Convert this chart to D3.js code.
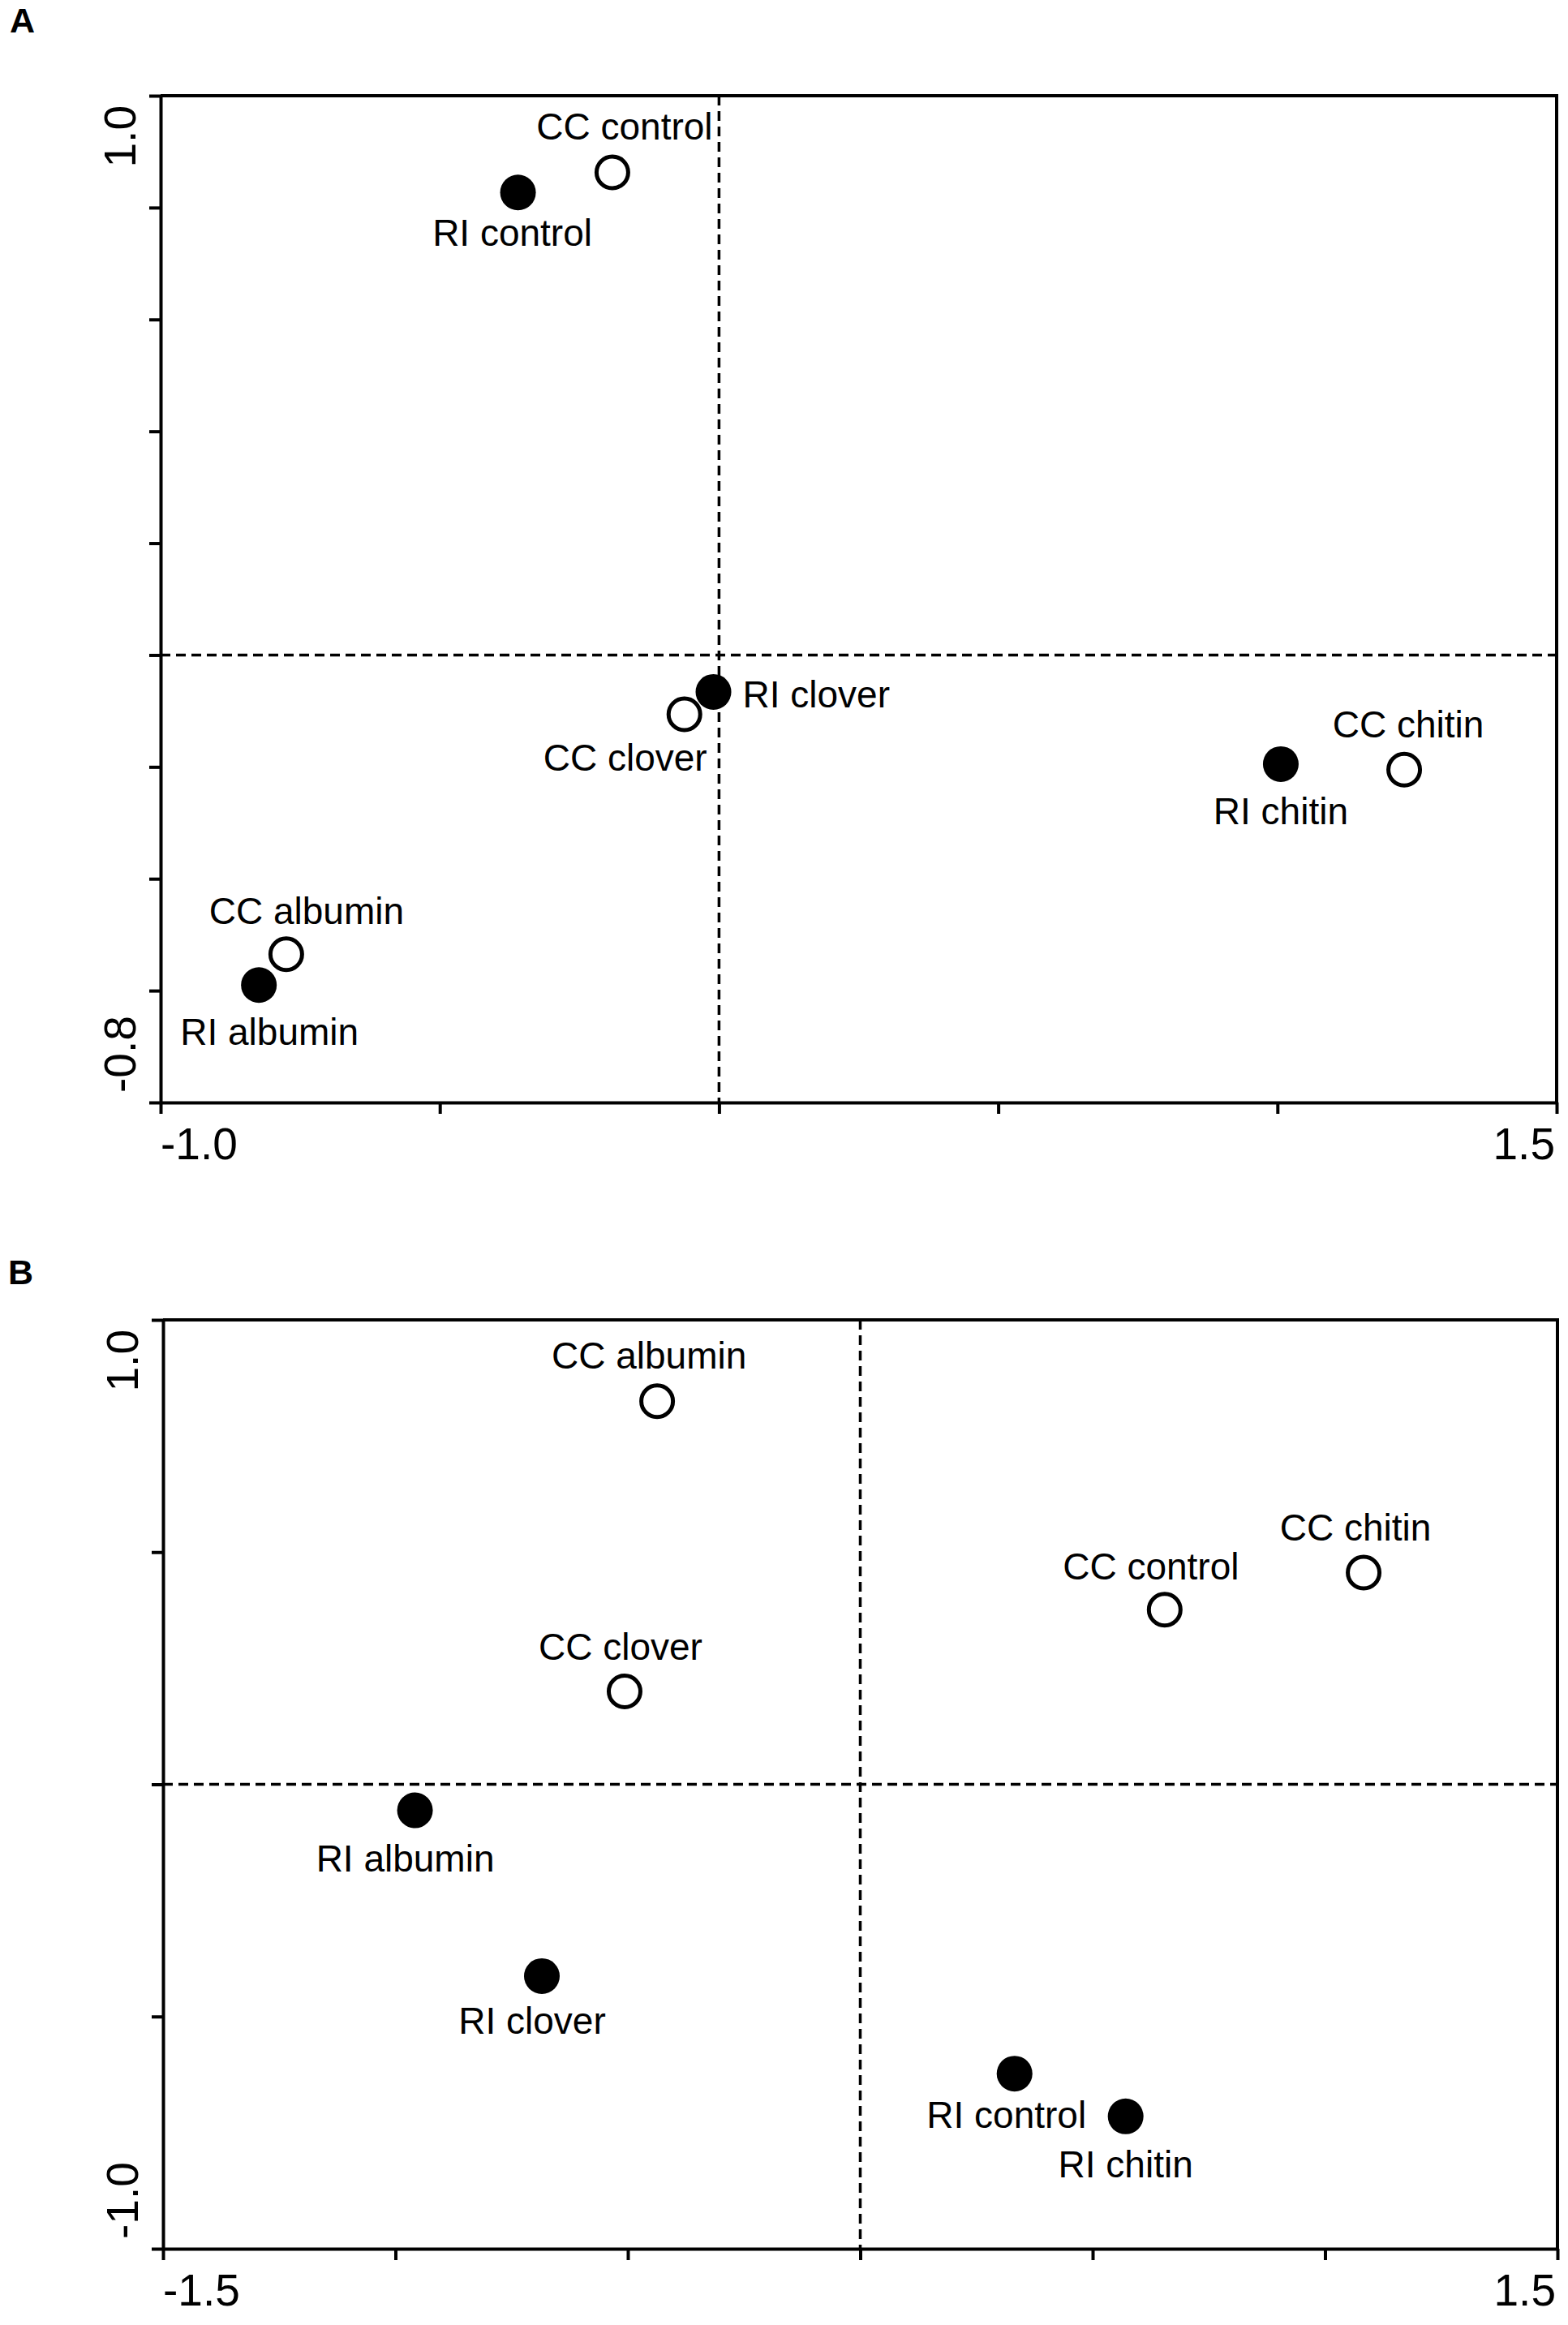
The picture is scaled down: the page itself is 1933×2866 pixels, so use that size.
<!DOCTYPE html>
<html>
<head>
<meta charset="utf-8">
<script src="https://cdn.jsdelivr.net/npm/d3@7"></script>
<style>
    body { margin: 0; background: #fff; }
    text { font-family: "Liberation Sans", Arial, sans-serif; fill: #000; }
    .panel-letter { font-weight: bold; font-size: 43px; }
    .tick-label { font-size: 55px; }
    .point-label { font-size: 46px; }
</style>
</head>
<body>
<svg id="chart" width="1933" height="2866"></svg>
<script>
// ---- panel A data ----
const labelsA = ["RI control", "CC control", "RI clover", "CC clover", "RI chitin", "CC chitin", "CC albumin", "RI albumin"];
const xA = [-0.360, -0.191, -0.010, -0.062, 1.006, 1.227, -0.775, -0.824];
const yA = [0.827, 0.863, -0.066, -0.106, -0.195, -0.205, -0.535, -0.590];
const xTicksA = [-1.0, -0.5, 0, 0.5, 1.0, 1.5];
const yTicksA = [-0.8, -0.6, -0.4, -0.2, 0, 0.2, 0.4, 0.6, 0.8, 1.0];

// ---- panel B data ----
const labelsB = ["CC albumin", "CC chitin", "CC control", "CC clover", "RI albumin", "RI clover", "RI control", "RI chitin"];
const xB = [-0.437, 1.083, 0.655, -0.507, -0.958, -0.685, 0.332, 0.571];
const yB = [0.825, 0.456, 0.376, 0.200, -0.056, -0.413, -0.623, -0.715];
const xTicksB = [-1.5, -1.0, -0.5, 0, 0.5, 1.0, 1.5];
const yTicksB = [-1.0, -0.5, 0, 0.5, 1.0];

// label placement relative to each point: [dx, dy, anchor]
const labelPosA = {
    "CC control": [15, -40, "middle"], "RI control": [-7, 66, "middle"],
    "RI clover": [36, 19, "start"], "CC clover": [-73, 69, "middle"],
    "CC chitin": [5, -40, "middle"], "RI chitin": [0, 74, "middle"],
    "CC albumin": [25, -37, "middle"], "RI albumin": [13, 74, "middle"]
};
const labelPosB = {
    "CC albumin": [-10, -40, "middle"], "CC chitin": [-10, -39, "middle"],
    "CC control": [-17, -37, "middle"], "CC clover": [-5, -39, "middle"],
    "RI albumin": [-12, 75, "middle"], "RI clover": [-12, 71, "middle"],
    "RI control": [-10, 67, "middle"], "RI chitin": [0, 75, "middle"]
};

const svg = d3.select("#chart");

// draws one ordination panel
function drawPanel(cfg) {
    const x = d3.scaleLinear().domain(cfg.xDomain).range([cfg.left, cfg.right]);
    const y = d3.scaleLinear().domain(cfg.yDomain).range([cfg.bottom, cfg.top]);
    const g = svg.append("g");

    // panel letter
    g.append("text").attr("class", "panel-letter")
        .attr("x", cfg.letterX).attr("y", cfg.letterY).text(cfg.letter);

    // dashed zero lines
    g.append("line")
        .attr("x1", x(0)).attr("x2", x(0)).attr("y1", cfg.top).attr("y2", cfg.bottom)
        .attr("stroke", "#000").attr("stroke-width", 3.5).attr("stroke-dasharray", "12,7");
    g.append("line")
        .attr("x1", cfg.left).attr("x2", cfg.right).attr("y1", y(0)).attr("y2", y(0))
        .attr("stroke", "#000").attr("stroke-width", 3.5).attr("stroke-dasharray", "12,7");

    // frame (top and right sides)
    g.append("path")
        .attr("d", `M${cfg.left},${cfg.top}H${cfg.right}V${cfg.bottom}`)
        .attr("fill", "none").attr("stroke", "#000").attr("stroke-width", 4);

    // axes with ticks only
    const xAxis = g.append("g").attr("transform", `translate(0,${cfg.bottom})`)
        .call(d3.axisBottom(x).tickValues(cfg.xTicks).tickSize(14).tickSizeOuter(0).tickFormat(""));
    const yAxis = g.append("g").attr("transform", `translate(${cfg.left},0)`)
        .call(d3.axisLeft(y).tickValues(cfg.yTicks).tickSize(14).tickSizeOuter(0).tickFormat(""));
    [xAxis, yAxis].forEach(a => {
        a.select(".domain").attr("stroke-width", 4);
        a.selectAll(".tick line").attr("stroke-width", 4);
    });

    // end tick labels only
    const xt = cfg.xTicks, yt = cfg.yTicks;
    g.append("text").attr("class", "tick-label")
        .attr("x", x(xt[0])).attr("y", cfg.bottom + 70).attr("text-anchor", "start")
        .text(xt[0].toFixed(1));
    g.append("text").attr("class", "tick-label")
        .attr("x", x(xt[xt.length - 1]) - 2).attr("y", cfg.bottom + 70).attr("text-anchor", "end")
        .text(xt[xt.length - 1].toFixed(1));
    g.append("text").attr("class", "tick-label")
        .attr("transform", `translate(${cfg.left - 31},${y(yt[yt.length - 1]) + 12}) rotate(-90)`)
        .attr("text-anchor", "end")
        .text(yt[yt.length - 1].toFixed(1));
    g.append("text").attr("class", "tick-label")
        .attr("transform", `translate(${cfg.left - 31},${y(yt[0]) - 12}) rotate(-90)`)
        .attr("text-anchor", "start")
        .text(yt[0].toFixed(1));

    // points: CC open circles, RI filled circles (filled drawn on top)
    const pts = cfg.labels.map((l, i) => ({ label: l, x: cfg.xs[i], y: cfg.ys[i], open: l.startsWith("CC") }));
    const sorted = pts.slice().sort((a, b) => (b.open ? 1 : 0) - (a.open ? 1 : 0));
    g.selectAll("circle.pt")
        .data(sorted)
        .join("circle")
        .attr("class", "pt")
        .attr("cx", d => x(d.x))
        .attr("cy", d => y(d.y))
        .attr("r", d => d.open ? 19.5 : 22)
        .attr("fill", d => d.open ? "#fff" : "#000")
        .attr("stroke", d => d.open ? "#000" : "none")
        .attr("stroke-width", 5);

    g.selectAll("text.point-label")
        .data(pts)
        .join("text")
        .attr("class", "point-label")
        .attr("x", d => x(d.x) + cfg.labelPos[d.label][0])
        .attr("y", d => y(d.y) + cfg.labelPos[d.label][1])
        .attr("text-anchor", d => cfg.labelPos[d.label][2])
        .text(d => d.label);
}

drawPanel({
    letter: "A", letterX: 12, letterY: 40,
    left: 198, right: 1919, top: 118, bottom: 1359,
    xDomain: [-1.0, 1.5], yDomain: [-0.8, 1.0],
    xTicks: xTicksA, yTicks: yTicksA,
    labels: labelsA, xs: xA, ys: yA, labelPos: labelPosA
});

drawPanel({
    letter: "B", letterX: 10, letterY: 1583,
    left: 201, right: 1920, top: 1627, bottom: 2772,
    xDomain: [-1.5, 1.5], yDomain: [-1.0, 1.0],
    xTicks: xTicksB, yTicks: yTicksB,
    labels: labelsB, xs: xB, ys: yB, labelPos: labelPosB
});
</script>
</body>
</html>
